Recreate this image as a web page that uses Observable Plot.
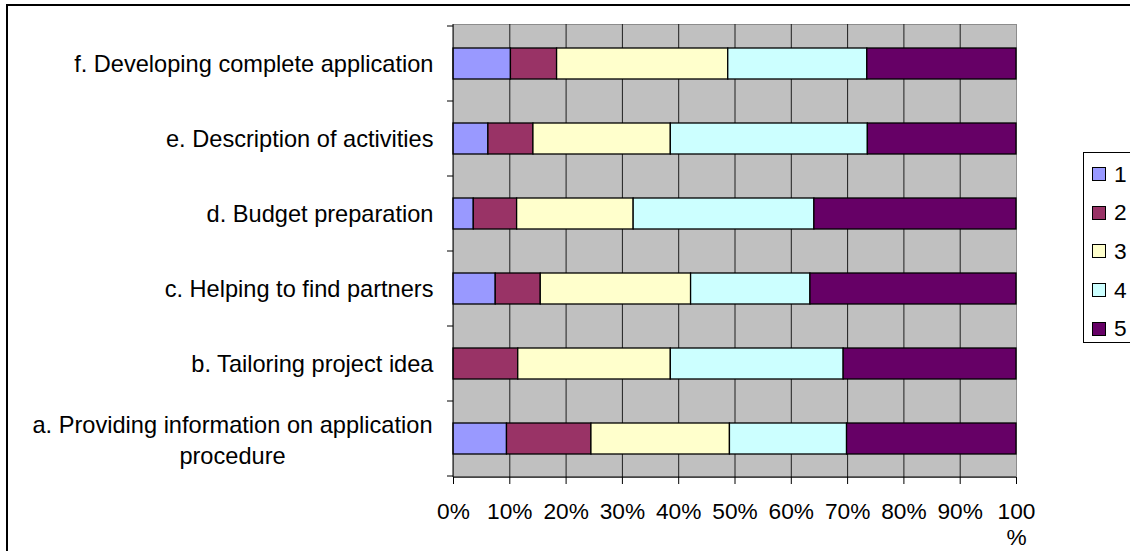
<!DOCTYPE html>
<html>
<head>
<meta charset="utf-8">
<script src="https://cdn.jsdelivr.net/npm/d3@7"></script>
<script src="https://cdn.jsdelivr.net/npm/@observablehq/plot@0.6"></script>
<style>
  html, body { margin: 0; padding: 0; background: #fff; }
  #wrap { position: relative; width: 1130px; height: 551px; overflow: hidden; font-family: "Liberation Sans", Arial, sans-serif; }
  #border { position: absolute; left: 6px; top: 4px; width: 1200px; height: 700px; border: 2px solid #000; box-sizing: border-box; }
  #chart { position: absolute; left: 0; top: 0; }
  #legend { position: absolute; left: 1083px; top: 152px; width: 120px; height: 191px; border: 1px solid #000; background: #fff; box-sizing: border-box; }
  .item { position: absolute; left: 8px; height: 26px; display: flex; align-items: center; font-size: 22.7px; color: #000; }
  .sw { width: 12px; height: 12px; border: 1px solid #000; margin-right: 8px; }
</style>
</head>
<body>
<div id="wrap">
  <div id="border"></div>
  <div id="chart"></div>
  <div id="legend"></div>
</div>
<script>
// Categories (top to bottom)
const categories = [
  "f. Developing complete application",
  "e. Description of activities",
  "d. Budget preparation",
  "c. Helping to find partners",
  "b. Tailoring project idea",
  "a. Providing information on application\nprocedure"
];
// Series (rating levels)
const series = ["1", "2", "3", "4", "5"];
const seriesColors = ["#9999FF", "#993366", "#FFFFCC", "#CCFFFF", "#660066"];
// Percent share per category (same order as categories), one array per series
const s1 = [10.2, 6.2, 3.6, 7.5, 0.0, 9.5];
const s2 = [8.2, 8.0, 7.7, 8.0, 11.5, 15.0];
const s3 = [30.4, 24.4, 20.7, 26.7, 27.1, 24.6];
const s4 = [24.7, 35.0, 32.1, 21.2, 30.7, 20.8];
const s5 = [26.5, 26.4, 35.9, 36.6, 30.7, 30.1];
const xTickValues = [0, 10, 20, 30, 40, 50, 60, 70, 80, 90, 100];
const xTickLabels = ["0%", "10%", "20%", "30%", "40%", "50%", "60%", "70%", "80%", "90%", "100\n%"];
const gridValues = [10, 20, 30, 40, 50, 60, 70, 80, 90];

const seriesValues = [s1, s2, s3, s4, s5];
const data = [];
series.forEach((s, si) => {
  categories.forEach((c, ci) => {
    data.push({category: c, series: s, value: seriesValues[si][ci]});
  });
});

const FONT = 22.7;
const YFONT = 23.6;
const singleLine = categories.filter(c => !c.includes("\n"));
const multiLine = categories.filter(c => c.includes("\n"));

function axisDecor(index, scales, values, dimensions) {
  const y = scales.y;
  const {marginLeft, marginTop, marginBottom, marginRight, height, width} = dimensions;
  const dom = y.domain();
  const n = dom.length;
  const step = y.step ? y.step() : (height - marginTop - marginBottom) / n;
  const bw = y.bandwidth ? y.bandwidth() : 0;
  const g = d3.create("svg:g").attr("stroke", "#000").attr("stroke-width", 1).attr("fill", "none");
  const ys = dom.map(c => y(c) - (step - bw) / 2);
  ys.push(y(dom[n - 1]) + bw + (step - bw) / 2);
  for (const v of ys) {
    g.append("line").attr("x1", marginLeft - 6).attr("x2", marginLeft).attr("y1", v).attr("y2", v);
  }
  g.append("line").attr("x1", marginLeft).attr("x2", marginLeft).attr("y1", marginTop).attr("y2", height - marginBottom);
  g.append("line").attr("x1", marginLeft).attr("x2", width - marginRight).attr("y1", height - marginBottom).attr("y2", height - marginBottom);
  return g.node();
}

const plot = Plot.plot({
  width: 1130,
  height: 551,
  marginLeft: 453,
  marginRight: 114,
  marginTop: 24,
  marginBottom: 74,
  style: {fontFamily: '"Liberation Sans", Arial, sans-serif', fontSize: FONT + "px", background: "transparent", color: "#000"},
  x: {domain: [0, 100], label: null},
  y: {domain: categories, paddingInner: 0.59, paddingOuter: 0.295, label: null},
  color: {domain: series, range: seriesColors},
  marks: [
    Plot.frame({fill: "#C0C0C0", stroke: "#8c8c8c"}),
    Plot.ruleX(gridValues, {stroke: "#1e1e1e", strokeWidth: 1}),
    Plot.barX(data.filter(d => d.value > 0), Plot.stackX({x: "value", y: "category", fill: "series", stroke: "#000", strokeWidth: 1.3})),
    Plot.axisX({ticks: xTickValues, tickFormat: (d, i) => xTickLabels[i], tickSize: 7, tickPadding: 15, fontSize: FONT, lineHeight: 1.18, stroke: "#000", label: null}),
    Plot.axisY({ticks: singleLine, tickSize: 0, tickPadding: 20, fontSize: YFONT, textAnchor: "end", label: null}),
    Plot.text(multiLine, {y: d => d, text: d => d, frameAnchor: "left", dx: -221, textAnchor: "middle", lineHeight: 1.3, fontSize: YFONT, fill: "#000"}),
    axisDecor
  ]
});
document.getElementById("chart").appendChild(plot);

// Legend built from the color scale
const color = plot.scale("color");
const legend = document.getElementById("legend");
color.domain.forEach((s, i) => {
  const item = document.createElement("div");
  item.className = "item";
  item.style.top = (8 + i * 38.7) + "px";
  const sw = document.createElement("div");
  sw.className = "sw";
  sw.style.background = color.range[i];
  const t = document.createElement("span");
  t.textContent = s;
  item.appendChild(sw);
  item.appendChild(t);
  legend.appendChild(item);
});
</script>
</body>
</html>
